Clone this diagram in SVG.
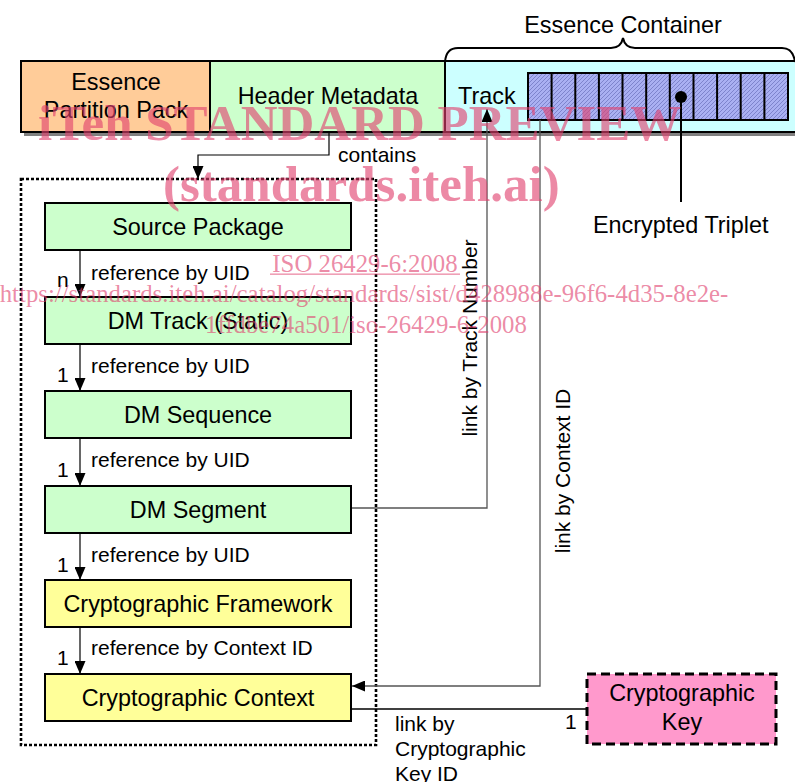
<svg xmlns="http://www.w3.org/2000/svg" width="795" height="782" viewBox="0 0 795 782">
<style>
text{font-family:"Liberation Sans",Arial,sans-serif;fill:#000}
.big{font-size:23.4px}
.lbl{font-size:21px}
.box{stroke:#000;stroke-width:2}
.g{fill:#ccffcc}
.y{fill:#ffff99}
.ref{stroke:#000;stroke-width:1.2;fill:none}
.lnk{stroke:#555;stroke-width:1.3;fill:none}
.wm{font-family:"Liberation Serif","Times New Roman",serif;fill:#e0406e;fill-opacity:0.62}
.wmb{font-size:51px;font-weight:bold}
.wms{font-size:24.8px}
</style>
<defs>
<marker id="ah" markerUnits="userSpaceOnUse" markerWidth="13" markerHeight="11" refX="13" refY="5.5" orient="auto">
<path d="M0,0 L13,5.5 L0,11 z" fill="#000"/>
</marker>
<pattern id="hatch" patternUnits="userSpaceOnUse" width="4" height="4">
<rect width="4" height="4" fill="#aab0f2"/>
<path d="M-1,1 L1,-1 M0,4 L4,0 M3,5 L5,3" stroke="#7e84cc" stroke-width="1"/>
</pattern>
</defs>
<rect width="795" height="782" fill="#fff"/>

<g id="top-bar">
<rect x="24" y="64" width="775" height="72" fill="#808080"/>
<g id="essence-partition-pack">
<rect x="21" y="61" width="189" height="71" fill="#ffcc99" class="box"/>
<text x="116" y="90" class="big" text-anchor="middle">Essence</text>
<text x="116" y="118" class="big" text-anchor="middle">Partition Pack</text>
</g>
<g id="header-metadata">
<rect x="210" y="61" width="235" height="71" fill="#ccffcc" class="box"/>
<text x="328" y="104" class="big" text-anchor="middle">Header Metadata</text>
</g>
<g id="essence-container">
<rect x="445" y="61" width="354" height="71" fill="#ccffff" class="box"/>
<text x="458" y="104" class="big">Track</text>
<rect x="528" y="73" width="260" height="47" fill="url(#hatch)" stroke="#000" stroke-width="2"/>
<path d="M551.6,73V120 M575.3,73V120 M598.9,73V120 M622.5,73V120 M646.2,73V120 M669.8,73V120 M693.5,73V120 M717.1,73V120 M740.7,73V120 M764.4,73V120" stroke="#000" stroke-width="2"/>
<circle cx="681" cy="97" r="6" fill="#000"/>
<path d="M681,97 V202" stroke="#000" stroke-width="2"/>
<path d="M445,62 Q446,48 458,48 H611 Q621,48 623,38 Q625,48 635,48 H782 Q793,48 795,62" fill="none" stroke="#000" stroke-width="2"/>
<text x="623" y="33" class="big" text-anchor="middle">Essence Container</text>
<text x="593" y="233" class="big">Encrypted Triplet</text>
</g>
</g>

<rect id="container" x="21" y="179" width="355" height="566" fill="none" stroke="#000" stroke-width="2.6" stroke-dasharray="3 2"/>

<g id="source-package"><rect x="45" y="203" width="306" height="47" class="box g"/><text x="198" y="235" class="big" text-anchor="middle">Source Package</text></g>
<g id="dm-track"><rect x="45" y="297" width="306" height="47" class="box g"/><text x="198" y="329" class="big" text-anchor="middle">DM Track (Static)</text></g>
<g id="dm-sequence"><rect x="45" y="391" width="306" height="47" class="box g"/><text x="198" y="423" class="big" text-anchor="middle">DM Sequence</text></g>
<g id="dm-segment"><rect x="45" y="486" width="306" height="47" class="box g"/><text x="198" y="518" class="big" text-anchor="middle">DM Segment</text></g>
<g id="crypto-framework"><rect x="45" y="580" width="306" height="47" class="box y"/><text x="198" y="612" class="big" text-anchor="middle">Cryptographic Framework</text></g>
<g id="crypto-context"><rect x="45" y="674" width="306" height="47" class="box y"/><text x="198" y="706" class="big" text-anchor="middle">Cryptographic Context</text></g>
<g id="crypto-key"><rect x="587" y="674" width="189" height="70" fill="#ff99cc" stroke="#000" stroke-width="3" stroke-dasharray="9 5"/><text x="682" y="701" class="big" text-anchor="middle">Cryptographic</text><text x="682" y="730" class="big" text-anchor="middle">Key</text></g>

<g id="connectors">
<path d="M329,132 V155 H198 V179" class="ref" marker-end="url(#ah)"/>
<text x="338" y="162" class="lbl">contains</text>
<path d="M80,250 V297" class="ref" marker-end="url(#ah)"/>
<text x="91" y="280" class="lbl">reference by UID</text><text x="57" y="287" class="lbl">n</text>
<path d="M80,344 V391" class="ref" marker-end="url(#ah)"/>
<text x="91" y="373" class="lbl">reference by UID</text><text x="57" y="382" class="lbl">1</text>
<path d="M80,438 V486" class="ref" marker-end="url(#ah)"/>
<text x="91" y="467" class="lbl">reference by UID</text><text x="57" y="477" class="lbl">1</text>
<path d="M80,533 V580" class="ref" marker-end="url(#ah)"/>
<text x="91" y="562" class="lbl">reference by UID</text><text x="57" y="572" class="lbl">1</text>
<path d="M80,627 V674" class="ref" marker-end="url(#ah)"/>
<text x="91" y="655" class="lbl">reference by Context ID</text><text x="57" y="665" class="lbl">1</text>
<path d="M352,508 H487 V109" class="lnk" marker-end="url(#ah)"/>
<text transform="translate(477,338) rotate(-90)" class="lbl" text-anchor="middle">link by Track Number</text>
<path d="M540,120 V686 H352" class="lnk" marker-end="url(#ah)"/>
<text transform="translate(570,471) rotate(-90)" class="lbl" text-anchor="middle">link by Context ID</text>
<path d="M352,709 H587" stroke="#000" stroke-width="1.5" fill="none"/>
<text x="565" y="729" class="lbl">1</text>
<text x="395" y="731" class="lbl">link by</text>
<text x="395" y="756" class="lbl">Cryptographic</text>
<text x="395" y="781" class="lbl">Key ID</text>
</g>

<g id="watermark">
<text x="38" y="140" class="wm wmb">iTeh STANDARD PREVIEW</text>
<text x="163" y="201" class="wm wmb">(standards.iteh.ai)</text>
<text x="365" y="272" class="wm wms" text-anchor="middle">ISO 26429-6:2008</text>
<rect x="270" y="273.5" width="190" height="1.3" fill="#e0406e" fill-opacity="0.62"/>
<text x="364" y="302" class="wm wms" text-anchor="middle">https://standards.iteh.ai/catalog/standards/sist/d428988e-96f6-4d35-8e2e-</text>
<text x="366" y="333" class="wm wms" text-anchor="middle">1ffdbe74a501/iso-26429-6-2008</text>
</g>
</svg>
